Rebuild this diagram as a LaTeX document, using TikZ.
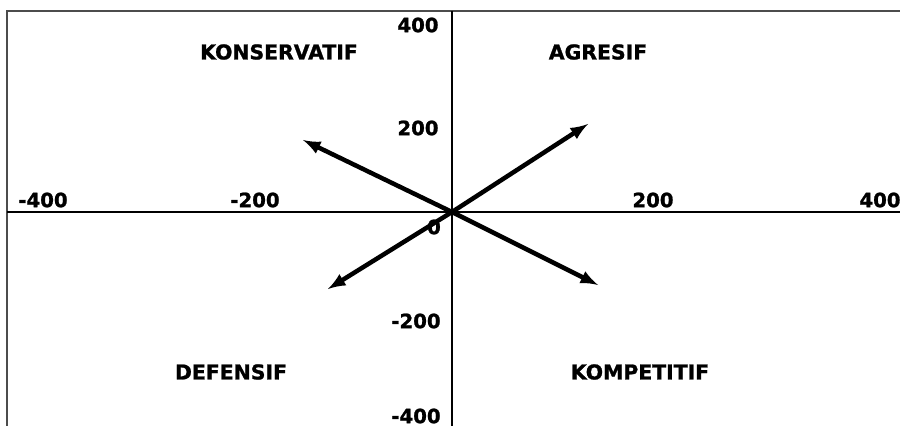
\documentclass[tikz,border=0pt]{standalone}
\usepackage{fontspec}
\setmainfont{DejaVu Sans}
\newfontfamily\heavyfont[FakeBold=1.2]{DejaVu Sans Bold}
\usepackage{tikz}
\usetikzlibrary{arrows,positioning}
\tikzset{
  axisline/.style={line width=1.5pt, black},
  framelin/.style={line width=0.9pt, black!70},
  vecline/.style={line width=3.2pt, -latex, black},
  ticklab/.style={font=\heavyfont\fontsize{14}{16}\selectfont, inner sep=0pt},
  quadlab/.style={font=\heavyfont\fontsize{14.5}{16}\selectfont, inner sep=0pt}
}
\begin{document}
\begin{tikzpicture}[x=0.025cm, y=-0.025cm]
    \useasboundingbox (0,0) rectangle (900,426);

    % frame and axes
    \coordinate (fbl) at (7,426);
    \coordinate (ftl) at (7,11);
    \coordinate (ftr) at (900,11);
    \draw[framelin] (fbl) -- (ftl) -- (ftr);
    \coordinate (o) at (452,212);
    \coordinate (xl) at (7,212);
    \coordinate (xr) at (900,212);
    \coordinate (yt) at (452,11);
    \coordinate (yb) at (452,426);
    \draw[axisline] (xl) -- (xr);
    \draw[axisline] (yt) -- (yb);

    % tick labels
    \node[ticklab] (xm4) at (43,200) {-400};
    \node[ticklab] (xm2) at (255,200) {-200};
    \node[ticklab] (xp2) at (653,200) {200};
    \node[ticklab] (xp4) at (880,200) {400};
    \node[ticklab] (yp4) at (418,25) {400};
    \node[ticklab] (yp2) at (418,128) {200};
    \node[ticklab] (y0) at (434,227) {0};
    \node[ticklab] (ym2) at (416,321) {-200};
    \node[ticklab] (ym4) at (416,416) {-400};

    % quadrants
    \node[quadlab] (kons) at (279,52) {KONSERVATIF};
    \node[quadlab] (agr) at (598,52) {AGRESIF};
    \node[quadlab] (def) at (231,372) {DEFENSIF};
    \node[quadlab] (komp) at (640,372) {KOMPETITIF};

    % strategy vectors
    \coordinate (ul) at (303,140);
    \coordinate (ur) at (588,124);
    \coordinate (ll) at (328,289);
    \coordinate (lr) at (598,285);
    \foreach \e in {ul,ur,ll,lr}
      \draw[vecline] (o) -- (\e);
\end{tikzpicture}
\end{document}
